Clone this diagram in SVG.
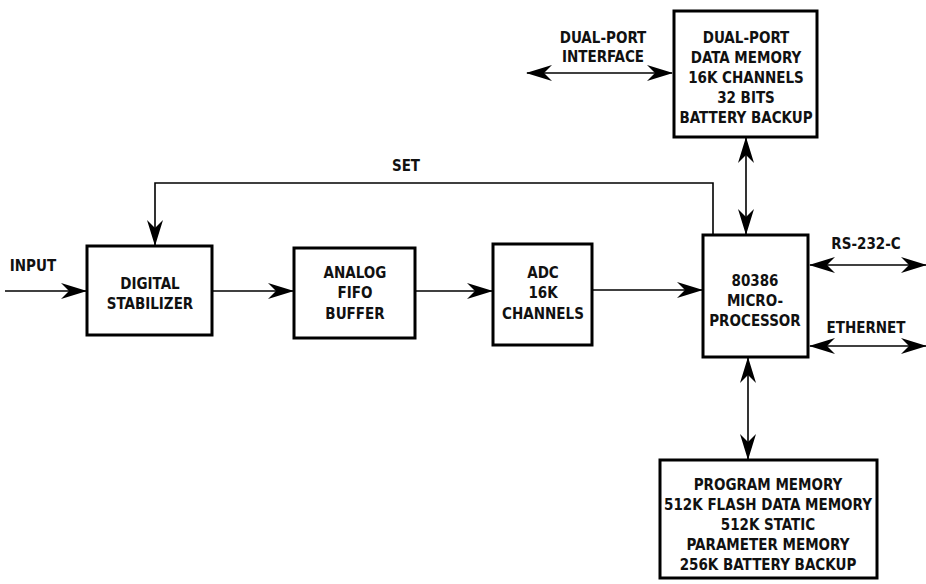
<svg xmlns="http://www.w3.org/2000/svg" width="926" height="584" viewBox="0 0 926 584">
<style>
.box{fill:#fff;stroke:#000;stroke-width:3}
.t{font-family:"DejaVu Sans Condensed","Liberation Sans",sans-serif;font-weight:bold;font-size:15px;fill:#111;text-anchor:middle}
.c{fill:none;stroke:#000;stroke-width:1.6}
</style>
<defs>
<marker id="ah" viewBox="0 0 26 16" refX="25" refY="8" markerWidth="26" markerHeight="16" markerUnits="userSpaceOnUse" orient="auto-start-reverse">
<path d="M0,0 L26,8 L0,16 L8,8 z" fill="#000"/>
</marker>
</defs>
<rect width="926" height="584" fill="#fff"/>
<g id="connectors">
<line class="c" x1="5" y1="291" x2="86" y2="291" marker-end="url(#ah)"/>
<line class="c" x1="212" y1="291" x2="293" y2="291" marker-end="url(#ah)"/>
<line class="c" x1="415" y1="291" x2="492" y2="291" marker-end="url(#ah)"/>
<line class="c" x1="592" y1="290" x2="702" y2="290" marker-end="url(#ah)"/>
<polyline class="c" points="713,234 713,183 155,183 155,245" marker-end="url(#ah)"/>
<line class="c" x1="527" y1="73" x2="672" y2="73" marker-start="url(#ah)" marker-end="url(#ah)"/>
<line class="c" x1="746" y1="138" x2="746" y2="234" marker-start="url(#ah)" marker-end="url(#ah)"/>
<line class="c" x1="748" y1="358" x2="748" y2="459" marker-start="url(#ah)" marker-end="url(#ah)"/>
<line class="c" x1="810" y1="265" x2="926" y2="265" marker-start="url(#ah)" marker-end="url(#ah)"/>
<line class="c" x1="810" y1="346" x2="926" y2="346" marker-start="url(#ah)" marker-end="url(#ah)"/>
</g>
<g id="labels">
<text class="t" x="33" y="271">INPUT</text>
<text class="t" x="406" y="171">SET</text>
<text class="t" x="603" y="43">DUAL-PORT</text>
<text class="t" x="603" y="62">INTERFACE</text>
<text class="t" x="866" y="249">RS-232-C</text>
<text class="t" x="866" y="333">ETHERNET</text>
</g>
<g id="digital-stabilizer">
<rect class="box" x="87" y="246" width="125" height="89"/>
<text class="t" x="150" y="289">DIGITAL</text>
<text class="t" x="150" y="309">STABILIZER</text>
</g>
<g id="analog-fifo">
<rect class="box" x="294" y="248" width="121" height="90"/>
<text class="t" x="355" y="278">ANALOG</text>
<text class="t" x="355" y="298">FIFO</text>
<text class="t" x="355" y="319">BUFFER</text>
</g>
<g id="adc">
<rect class="box" x="493" y="244" width="99" height="101"/>
<text class="t" x="543" y="278">ADC</text>
<text class="t" x="543" y="298">16K</text>
<text class="t" x="543" y="319">CHANNELS</text>
</g>
<g id="microprocessor">
<rect class="box" x="703" y="235" width="105" height="122"/>
<text class="t" x="755" y="286">80386</text>
<text class="t" x="755" y="306">MICRO-</text>
<text class="t" x="755" y="326">PROCESSOR</text>
</g>
<g id="dual-port-memory">
<rect class="box" x="674" y="11" width="143" height="126"/>
<text class="t" x="746" y="43">DUAL-PORT</text>
<text class="t" x="746" y="63">DATA MEMORY</text>
<text class="t" x="746" y="83">16K CHANNELS</text>
<text class="t" x="746" y="103">32 BITS</text>
<text class="t" x="746" y="123">BATTERY BACKUP</text>
</g>
<g id="program-memory">
<rect class="box" x="660" y="460" width="217" height="118"/>
<text class="t" x="768" y="490">PROGRAM MEMORY</text>
<text class="t" x="768" y="510">512K FLASH DATA MEMORY</text>
<text class="t" x="768" y="530">512K STATIC</text>
<text class="t" x="768" y="550">PARAMETER MEMORY</text>
<text class="t" x="768" y="570">256K BATTERY BACKUP</text>
</g>
</svg>
